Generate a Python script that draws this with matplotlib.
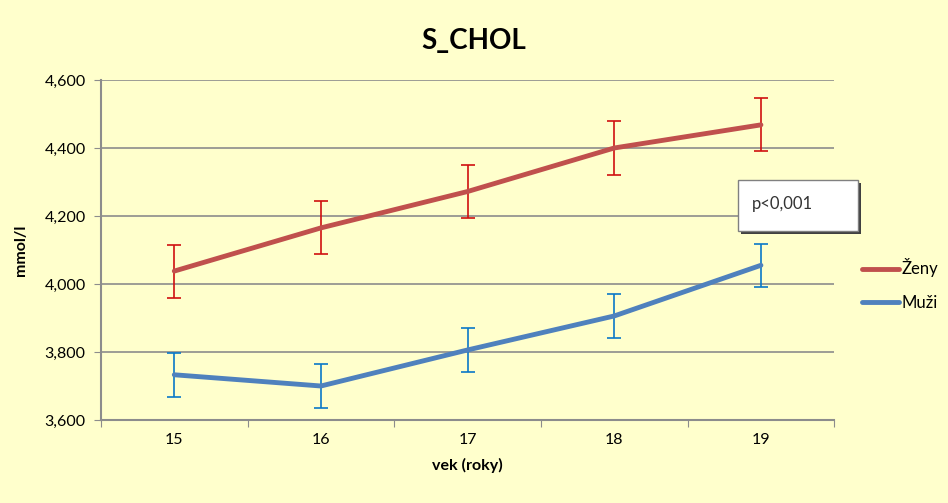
"""
S_CHOL by age, women vs men, with error bars.
"""

import matplotlib

matplotlib.use("Agg")
import matplotlib.pyplot as plt
from matplotlib.patches import Rectangle
from matplotlib.ticker import FixedLocator, FuncFormatter

plt.rcParams["font.family"] = ["Lato", "DejaVu Sans"]

AGES = [15, 16, 17, 18, 19]
ZENY = [4038, 4165, 4272, 4400, 4468]
ZENY_ERR = [78, 78, 78, 78, 78]
MUZI = [3733, 3700, 3806, 3906, 4055]
MUZI_ERR = [64, 64, 64, 64, 64]
Y_TICKS = [3600, 3800, 4000, 4200, 4400, 4600]

BG = "#FFFFCC"
GRID = "#8C8C8C"
W, H = 948, 503


def main() -> None:
    fig = plt.figure(figsize=(W / 100, H / 100), dpi=100, facecolor=BG)
    ax = fig.add_axes([0.1065, 0.165, 0.7735, 0.676])
    ax.set_facecolor(BG)

    ax.errorbar(AGES, ZENY, yerr=ZENY_ERR, fmt="none", ecolor="#D01010",
                elinewidth=1.2, capsize=5, capthick=1.2, zorder=3)
    ax.errorbar(AGES, MUZI, yerr=MUZI_ERR, fmt="none", ecolor="#0A78C8",
                elinewidth=1.2, capsize=5, capthick=1.2, zorder=3)
    ax.plot(AGES, ZENY, color="#C0504D", lw=3.5, label="Ženy", zorder=4,
            solid_capstyle="round")
    ax.plot(AGES, MUZI, color="#4F81BD", lw=3.5, label="Muži", zorder=4,
            solid_capstyle="round")

    ax.set_xlim(AGES[0] - 0.5, AGES[-1] + 0.5)
    ax.set_ylim(Y_TICKS[0], Y_TICKS[-1])
    ax.yaxis.set_major_locator(FixedLocator(Y_TICKS))
    ax.yaxis.set_major_formatter(FuncFormatter(lambda v, _: f"{v:,.0f}"))
    ax.grid(axis="y", color=GRID, lw=1.2)
    ax.set_axisbelow(True)

    ax.set_xticks([a - 0.5 for a in AGES] + [AGES[-1] + 0.5])
    ax.set_xticklabels([])
    ax.set_xticks(AGES, minor=True)
    ax.set_xticklabels([str(a) for a in AGES], minor=True)
    ax.tick_params(axis="x", which="major", length=5, color=GRID)
    ax.tick_params(axis="x", which="minor", length=0, pad=9, labelsize=11.5)
    ax.tick_params(axis="y", length=5, color=GRID, pad=6, labelsize=11.5)

    for side in ("top", "right"):
        ax.spines[side].set_visible(False)
    for side in ("left", "bottom"):
        ax.spines[side].set_color(GRID)
        ax.spines[side].set_linewidth(1.5)

    ax.set_xlabel("vek (roky)", fontsize=11.5, fontweight="bold", labelpad=8)
    ax.set_ylabel("mmol/l", fontsize=11.5, fontweight="bold", labelpad=12)
    fig.text(0.5, 0.918, "S_CHOL", ha="center", va="center", fontsize=20,
             fontweight="bold")

    ax.legend(loc="center left", bbox_to_anchor=(1.0385, 0.398), frameon=False,
              fontsize=12, handlelength=2.2, handletextpad=0.15,
              labelspacing=1.05, borderaxespad=0.0, borderpad=0.0)

    # p-value box with a dark drop shadow
    bx0, bx1, by0, by1 = 738 / W, 858 / W, 1 - 231 / H, 1 - 180 / H
    fig.patches.append(Rectangle((bx0 + 3 / W, by0 - 3 / H), bx1 - bx0,
                                 by1 - by0, transform=fig.transFigure,
                                 fc="#404040", ec="none", zorder=5))
    fig.patches.append(Rectangle((bx0, by0), bx1 - bx0, by1 - by0,
                                 transform=fig.transFigure, fc="white",
                                 ec="#808080", lw=1.0, zorder=6))
    fig.text(752 / W, 1 - 204 / H, "p<0,001", ha="left", va="center",
             fontsize=12, color="#333333", zorder=7)

    fig.savefig("out.png", dpi=100, facecolor=BG)
    plt.close(fig)


if __name__ == "__main__":
    main()
